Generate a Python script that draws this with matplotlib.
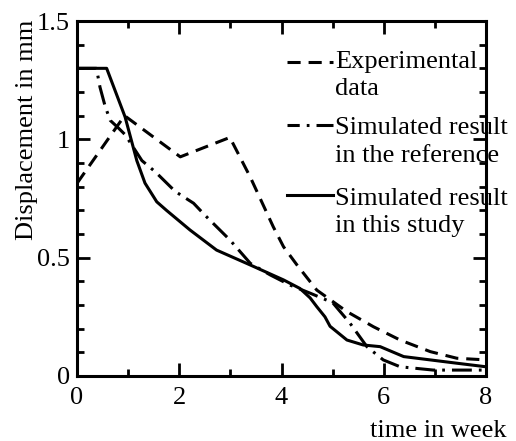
import matplotlib.pyplot as plt
from matplotlib.ticker import MultipleLocator

# time in week / displacement in mm
exp_time = [0, 0.93, 2.02, 2.99, 3.39, 3.84, 4.04, 4.3, 4.69, 5.28, 5.80, 6.32, 6.91, 7.43, 8.0]
exp_disp = [0.814, 1.10, 0.926, 1.008, 0.84, 0.63, 0.546, 0.47, 0.363, 0.272, 0.208, 0.152, 0.103, 0.075, 0.068]

ref_time = [0, 0.38, 0.45, 0.55, 0.65, 0.80, 0.94, 1.27, 1.53, 1.92, 2.28, 2.5, 2.99, 3.39, 3.78,
            4.17, 4.56, 5.0, 5.34, 5.67, 5.99, 6.32, 6.97, 8.0]
ref_disp = [1.30, 1.30, 1.22, 1.14, 1.08, 1.05, 1.02, 0.91, 0.863, 0.78, 0.73, 0.68, 0.575, 0.476, 0.427,
            0.384, 0.35, 0.31, 0.223, 0.124, 0.068, 0.039, 0.025, 0.025]

study_time = [0, 0.58, 0.94, 1.17, 1.33, 1.56, 1.75, 2.21, 2.73, 3.39, 4.04, 4.36, 4.56, 4.69, 4.85,
              4.95, 5.28, 5.60, 5.93, 6.39, 6.91, 7.43, 8.0]
study_disp = [1.30, 1.30, 1.095, 0.91, 0.815, 0.736, 0.70, 0.617, 0.532, 0.469, 0.406, 0.37, 0.33, 0.293, 0.25,
              0.21, 0.152, 0.131, 0.124, 0.082, 0.068, 0.054, 0.039]

x_ticks = [0, 2, 4, 6, 8]
y_ticks = [0, 0.5, 1, 1.5]
y_ticklabels = ['0', '0.5', '1', '1.5']
legend_labels = ['Experimental\ndata', 'Simulated result\nin the reference', 'Simulated result\nin this study']

plt.rcParams['font.family'] = ['Liberation Serif', 'DejaVu Serif']
FS = 19
LW = 2.2
dashed = (0, (4.3, 2.6))
dashdot = (0, (6.5, 2.3, 0.9, 2.3))

fig = plt.figure(figsize=(5.16, 4.41), dpi=100)
ax = fig.add_axes([77 / 516, 65 / 441, 409 / 516, 355 / 441])

ax.plot(exp_time, exp_disp, color='black', lw=LW, linestyle=dashed)
ax.plot(ref_time, ref_disp, color='black', lw=LW, linestyle=dashdot)
ax.plot(study_time, study_disp, color='black', lw=LW, linestyle='-')

ax.set_xlim(0, 8)
ax.set_ylim(0, 1.5)
ax.set_xticks(x_ticks, [str(t) for t in x_ticks])
ax.set_yticks(y_ticks, y_ticklabels)
ax.xaxis.set_minor_locator(MultipleLocator(1))
ax.yaxis.set_minor_locator(MultipleLocator(0.1))

ax.tick_params(which='both', direction='in', top=True, right=True, width=2.0, labelsize=FS)
ax.tick_params(which='major', length=9.4)
ax.tick_params(which='minor', length=5)
ax.tick_params(axis='x', pad=8)
ax.tick_params(axis='y', pad=5)
for spine in ax.spines.values():
    spine.set_linewidth(2.2)

ax.set_ylabel('Displacement in mm', fontsize=FS)
ax.yaxis.set_label_coords(-0.095, 0.693)
ax.set_xlabel('time in week', fontsize=FS, ha='right', va='baseline')
ax.xaxis.set_label_coords(1.051, -0.172)

# hand-placed legend: handle level with the first line of each label
styles = [dashed, (2.5, (6.5, 2.3, 0.9, 2.3)), '-']
handle_y = [0.885, 0.707, 0.510]
last_line_y = [0.792, 0.604, 0.406]
for style, hy, ty, label in zip(styles, handle_y, last_line_y, legend_labels):
    ax.plot([0.513, 0.626], [hy, hy], transform=ax.transAxes, color='black', lw=LW,
            linestyle=style, clip_on=False)
    ax.text(0.631, ty, label, transform=ax.transAxes, fontsize=FS, va='baseline',
            ha='left', linespacing=1.3)

fig.savefig('out.png', dpi=100)
